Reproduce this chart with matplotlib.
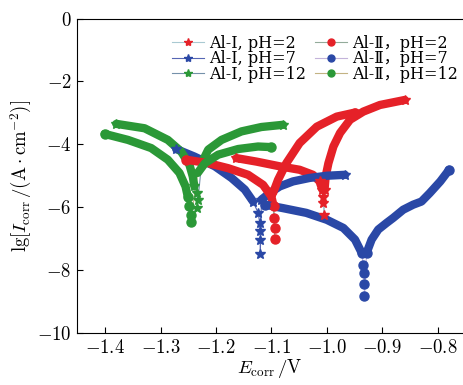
import numpy as np
import matplotlib
matplotlib.use("Agg")
import matplotlib.pyplot as plt
from matplotlib.lines import Line2D

plt.rcParams['font.family'] = ['cmr10', 'DejaVu Serif', 'Noto Sans CJK SC']
plt.rcParams['mathtext.fontset'] = 'cm'
plt.rcParams['axes.formatter.use_mathtext'] = True
plt.rcParams['axes.unicode_minus'] = True

# polarisation curves: E (V) and lg(I)
# path goes left branch -> dip tail -> right branch
e_al1_ph2 = [-1.163, -1.127, -1.085, -1.049, -1.025, -1.013, -1.008, -1.007, -1.006, -1.005,
             -1.004, -1.002, -0.997, -0.988, -0.976, -0.958, -0.934, -0.904, -0.859]
lg_al1_ph2 = [-4.44, -4.55, -4.70, -4.81, -4.97, -5.18, -5.44, -5.66, -5.87, -6.24,
              -5.44, -5.02, -4.60, -4.07, -3.64, -3.22, -2.96, -2.75, -2.59]

e_al1_ph7 = [-1.272, -1.239, -1.202, -1.172, -1.148, -1.133, -1.124, -1.121, -1.120, -1.120, -1.120,
             -1.118, -1.103, -1.085, -1.061, -1.031, -1.000, -0.967]
lg_al1_ph7 = [-4.15, -4.39, -4.70, -5.07, -5.44, -5.82, -6.18, -6.50, -6.77, -7.03, -7.48,
              -5.76, -5.55, -5.34, -5.18, -5.07, -5.00, -4.97]

e_al1_ph12 = [-1.380, -1.329, -1.287, -1.263, -1.248, -1.242, -1.239, -1.235, -1.233, -1.234,
              -1.226, -1.214, -1.190, -1.154, -1.118, -1.079]
lg_al1_ph12 = [-3.35, -3.49, -3.86, -4.23, -4.65, -5.02, -5.34, -5.55, -5.76, -6.03,
               -4.60, -4.17, -3.86, -3.59, -3.45, -3.38]

e_al2_ph2 = [-1.254, -1.214, -1.178, -1.142, -1.115, -1.100, -1.096, -1.095, -1.094, -1.094,
             -1.097, -1.088, -1.073, -1.049, -1.018, -0.982, -0.949]
lg_al2_ph2 = [-4.49, -4.60, -4.76, -4.97, -5.29, -5.66, -5.97, -6.34, -6.66, -7.01,
              -5.55, -5.13, -4.60, -3.96, -3.44, -3.12, -2.99]

e_al2_ph7 = [-1.112, -1.079, -1.037, -1.000, -0.970, -0.949, -0.937, -0.934, -0.933, -0.932, -0.932,
             -0.928, -0.919, -0.907, -0.892, -0.880, -0.862, -0.844, -0.829, -0.814, -0.795, -0.779]
lg_al2_ph7 = [-5.92, -6.03, -6.18, -6.40, -6.66, -7.03, -7.45, -7.83, -8.09, -8.43, -8.83,
              -7.45, -7.03, -6.71, -6.50, -6.34, -6.08, -5.92, -5.82, -5.55, -5.18, -4.81]

e_al2_ph12 = [-1.401, -1.359, -1.317, -1.287, -1.266, -1.255, -1.251, -1.248, -1.246, -1.246,
              -1.233, -1.220, -1.196, -1.160, -1.124, -1.100]
lg_al2_ph12 = [-3.67, -3.86, -4.12, -4.49, -4.91, -5.34, -5.66, -5.97, -6.24, -6.48,
               -4.91, -4.60, -4.33, -4.15, -4.07, -4.09]

labels = ['Al-Ⅰ, pH=2', 'Al-Ⅰ, pH=7', 'Al-Ⅰ, pH=12',
          'Al-Ⅱ，pH=2', 'Al-Ⅱ，pH=7', 'Al-Ⅱ，pH=12']

red, blue, green = '#e52128', '#2a48a6', '#2b9837'
series = [
    (e_al1_ph2, lg_al1_ph2, red, '#a9c9d2', '*', -5.5),
    (e_al1_ph7, lg_al1_ph7, blue, '#5666b4', '*', -6.0),
    (e_al1_ph12, lg_al1_ph12, green, '#7591aa', '*', -5.5),
    (e_al2_ph2, lg_al2_ph2, red, '#93ab9b', 'o', -6.1),
    (e_al2_ph7, lg_al2_ph7, blue, '#c3b3da', 'o', -7.6),
    (e_al2_ph12, lg_al2_ph12, green, '#c3b383', 'o', -5.8),
]

fig = plt.figure(figsize=(4.63, 3.85), dpi=100)
ax = fig.add_axes([77 / 463, 1 - 333 / 385, 1 - 77 / 463, (333 - 18.5) / 385])

handles = []
for (e, lg, c, lc, m, cut), lab in zip(series, labels):
    e = np.array(e)
    lg = np.array(lg)
    ms = 7.5 if m == '*' else 6.5
    ax.plot(e, lg, color=lc, lw=0.8, zorder=2)
    band = np.ma.masked_where(lg < cut, lg)
    ax.plot(e, band, color=c, lw=6, solid_capstyle='round', solid_joinstyle='round', zorder=3)
    tail = lg < cut + 0.35
    ax.plot(e[tail], lg[tail], ls='none', marker=m, ms=ms, color=c, mec=c, zorder=4)
    ax.plot(e[[0, -1]], lg[[0, -1]], ls='none', marker=m, ms=ms, color=c, mec=c, zorder=4)
    handles.append(Line2D([], [], color=lc, lw=0.8, marker=m, ms=ms - 1.5, mfc=c, mec=c, label=lab))

ax.set_xlim(-1.451, -0.754)
ax.set_ylim(-10, 0)
ax.set_xticks([-1.4, -1.3, -1.2, -1.1, -1.0, -0.9, -0.8])
ax.set_yticks([0, -2, -4, -6, -8, -10])
ax.tick_params(direction='in', length=4, labelsize=13.5, top=False, right=False, pad=4)
ax.spines['right'].set_visible(False)
ax.set_xlabel(r'$E_{\mathrm{corr}}\,/\mathrm{V}$', fontsize=13.5, labelpad=0)
ax.set_ylabel(r'$\mathrm{lg}[I_{\mathrm{corr}}\,/(\mathrm{A}\cdot\mathrm{cm}^{-2})]$', fontsize=13.5, labelpad=2)

ax.legend(handles=handles, ncol=2, frameon=False,
          prop={'family': ['DejaVu Serif', 'Noto Sans CJK SC'], 'size': 11.5},
          loc='upper left', bbox_to_anchor=(164 / 463, 1 - 27 / 385),
          bbox_transform=fig.transFigure, labelspacing=-0.1, handlelength=2.0,
          handletextpad=0.3, columnspacing=0.6, borderpad=0)

fig.savefig('out.png', dpi=100)
